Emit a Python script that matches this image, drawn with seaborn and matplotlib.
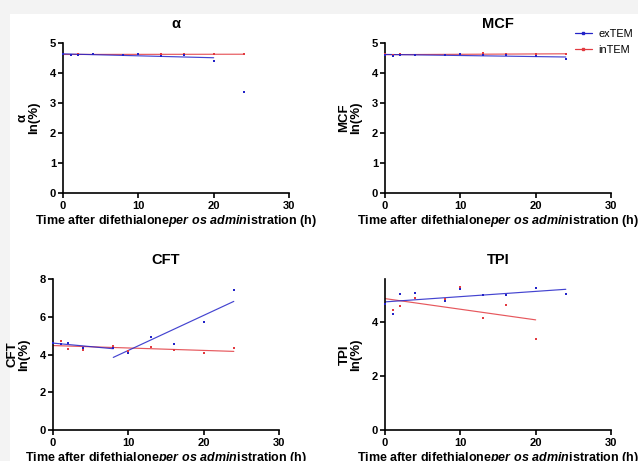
import numpy as np
import pandas as pd
import seaborn as sns
import matplotlib.pyplot as plt
from matplotlib.lines import Line2D
from matplotlib.patches import Rectangle

# data (ln of % of baseline)
hours = [0, 1, 2, 4, 8, 10, 13, 16, 20, 24]

alpha_ex = [4.62, 4.59, 4.61, 4.62, 4.61, 4.63, 4.58, 4.59, 4.41, 3.38]
alpha_in = [4.62, 4.61, 4.62, 4.62, 4.61, 4.64, 4.62, 4.62, 4.63, 4.62]
mcf_ex = [4.61, 4.55, 4.61, 4.61, 4.61, 4.64, 4.59, 4.59, 4.58, 4.45]
mcf_in = [4.62, 4.60, 4.62, 4.61, 4.61, 4.62, 4.66, 4.62, 4.63, 4.64]
cft_ex = [4.60, 4.57, 4.60, 4.35, 4.34, 4.06, 4.94, 4.57, 5.70, 7.44]
cft_in = [4.60, 4.71, 4.29, 4.22, 4.44, 4.18, 4.39, 4.22, 4.09, 4.34]
tpi_ex = [4.68, 4.32, 5.04, 5.07, 4.77, 5.22, 5.01, 5.00, 5.28, 5.03]
tpi_in = [4.68, 4.46, 4.59, 4.88, 4.85, 5.31, 4.16, 4.64, 3.37, np.nan]

# time windows used for each regression line
alpha_ex_fit = [(0, 20)]
alpha_in_fit = [(0, 24)]
mcf_ex_fit = [(0, 24)]
mcf_in_fit = [(0, 24)]
cft_ex_fit = [(0, 8), (8, 24)]
cft_in_fit = [(0, 24)]
tpi_ex_fit = [(0, 24)]
tpi_in_fit = [(0, 20)]

panels = [
    ("α", alpha_ex, alpha_in, alpha_ex_fit, alpha_in_fit, 5, [0, 1, 2, 3, 4, 5]),
    ("MCF", mcf_ex, mcf_in, mcf_ex_fit, mcf_in_fit, 5, [0, 1, 2, 3, 4, 5]),
    ("CFT", cft_ex, cft_in, cft_ex_fit, cft_in_fit, 8, [0, 2, 4, 6, 8]),
    ("TPI", tpi_ex, tpi_in, tpi_ex_fit, tpi_in_fit, 5.6, [0, 2, 4]),
]

BLUE = "#2323c8"
RED = "#e23a40"

sns.set_theme(style="ticks")
plt.rcParams["font.family"] = ["Liberation Sans", "DejaVu Sans"]
plt.rcParams["mathtext.fontset"] = "custom"
plt.rcParams["mathtext.it"] = "Liberation Sans:italic:bold"
plt.rcParams["mathtext.rm"] = "Liberation Sans:bold"
plt.rcParams["text.color"] = "black"
plt.rcParams["axes.labelcolor"] = "black"

W, H = 638, 461
fig = plt.figure(figsize=(W / 100, H / 100), dpi=100, facecolor="#f3f3f3")
fig.patches.append(Rectangle((10 / W, 0), 1, 1 - 14 / H, transform=fig.transFigure,
                             facecolor="white", edgecolor="none", zorder=-5))

boxes = [(63, 193, 150), (385, 193, 150), (53, 430, 151), (385, 430, 151)]
xlabel = r"Time after difethialone$\mathit{per\ os\ admin}$istration (h)"

for (name, ex, inn, ex_fit, in_fit, ytop, yticks), (lx, by, hh) in zip(panels, boxes):
    ax = fig.add_axes([lx / W, (H - by) / H, 226 / W, hh / H])
    ax.patch.set_alpha(0)
    df = pd.DataFrame({"h": hours, "exTEM": ex, "inTEM": inn})
    for col, color, fits in [("inTEM", RED, in_fit), ("exTEM", BLUE, ex_fit)]:
        sub = df[["h", col]].dropna()
        sns.scatterplot(data=sub, x="h", y=col, ax=ax, color=color, marker="s",
                        s=3, linewidth=0, clip_on=False, zorder=3)
        for lo, hi in fits:
            seg = sub[(sub.h >= lo) & (sub.h <= hi)]
            sns.regplot(data=seg, x="h", y=col, ax=ax, scatter=False, ci=None,
                        truncate=True, color=color, line_kws={"lw": 0.85, "alpha": 0.85})
    ax.set_xlim(0, 30)
    ax.set_ylim(0, ytop)
    ax.set_xticks([0, 10, 20, 30])
    ax.set_yticks(yticks)
    sns.despine(ax=ax)
    for s in ["left", "bottom"]:
        ax.spines[s].set_linewidth(1.2)
        ax.spines[s].set_color("black")
    ax.tick_params(length=3.5, width=1.2, labelsize=8, colors="black")
    ax.tick_params(axis="x", pad=2.5)
    ax.tick_params(axis="y", pad=1.5)
    for t in ax.get_xticklabels() + ax.get_yticklabels():
        t.set_fontweight("bold")
    ax.set_title(name, fontsize=10.5, fontweight="bold", pad=11, color="black")
    ax.set_xlabel(xlabel, fontsize=9, fontweight="bold", labelpad=1.5)
    ax.set_ylabel(name + "\nln(%)", fontsize=9.5, fontweight="bold", labelpad=7,
                  linespacing=0.95)

handles = [Line2D([], [], color=BLUE, lw=0.9, marker="s", markersize=1.5),
           Line2D([], [], color=RED, lw=0.9, marker="s", markersize=1.5)]
fig.legend(handles, ["exTEM", "inTEM"], loc="upper left",
           bbox_to_anchor=(565 / W, 1 - 19 / H), frameon=False, fontsize=7.8,
           handlelength=1.6, handletextpad=0.6, labelspacing=0.6)

fig.savefig("out.png", dpi=100, facecolor=fig.get_facecolor())
